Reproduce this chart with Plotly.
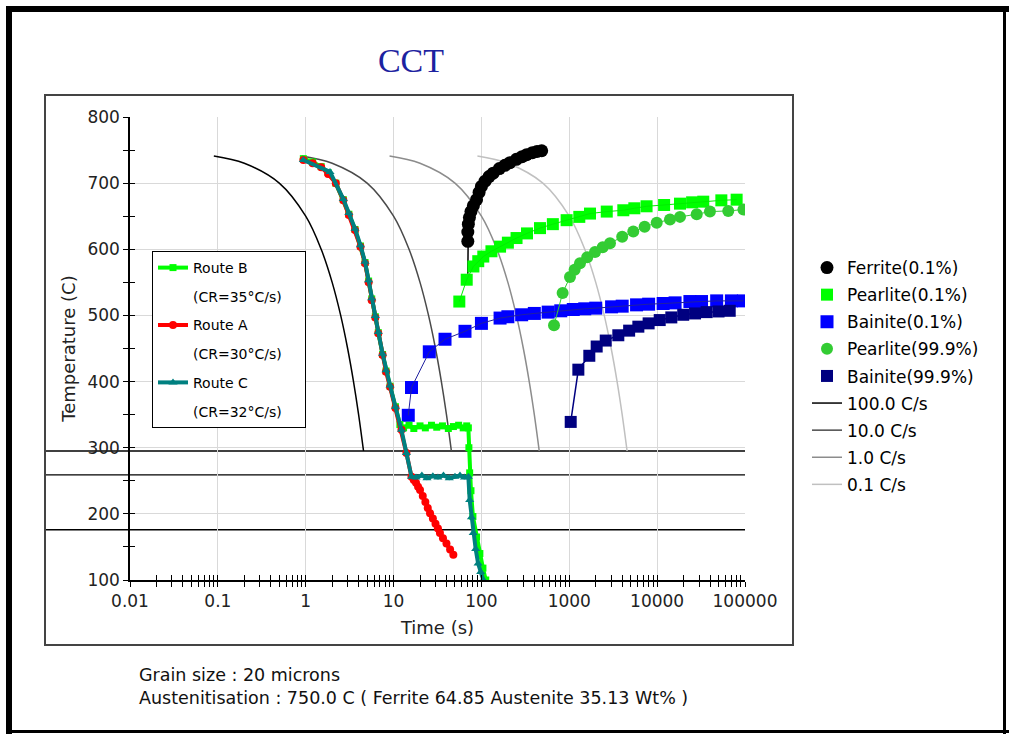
import plotly.graph_objects as go

# ---------------- data ----------------
ferrite_t = [70, 70, 70, 71, 73, 76, 81, 88, 94, 100, 110, 122, 136, 160, 185, 211, 250, 290, 327, 380, 430, 485]
ferrite_T = [563, 612, 626, 638, 648, 657, 666, 675, 686, 695, 703, 710, 715, 722, 727, 731, 736, 740, 743, 746, 748, 749]

pearlite01_t = [56, 68, 81, 92, 105, 130, 163, 200, 251, 330, 464, 650, 933, 1300, 1720, 2670, 4120, 5500, 7580,
                12000, 18200, 25000, 33500, 53800, 80300]
pearlite01_T = [521, 554, 574, 582, 589, 597, 604, 610, 617, 624, 632, 638, 644, 649, 654, 657, 659, 662, 665,
                667, 669, 671, 672, 674, 675]

bainite01_t = [14.7, 16, 25.5, 38.5, 65, 100, 163, 200, 287, 400, 575, 800, 1110, 1500, 2000, 3030, 4000, 5830,
               8000, 11700, 16000, 23600, 32000, 47600, 70000, 96000]
bainite01_T = [349, 391, 445, 464, 476, 488, 496, 498, 501, 503, 505, 507, 509, 510, 511, 513, 514, 516,
               517, 518, 519, 521, 521, 522, 522, 522]

pearlite999_t = [670, 840, 1018, 1150, 1324, 1600, 1963, 2400, 2906, 4000, 5350, 7200, 9880, 14000, 18200,
                 28200, 39900, 64500, 96000]
pearlite999_T = [485, 534, 558, 569, 579, 588, 596, 603, 609, 619, 627, 634, 640, 645, 649, 653, 657, 658, 660]

bainite999_t = [1038, 1268, 1690, 2050, 2600, 3614, 4800, 6110, 8000, 10700, 14500, 19800, 27000, 36600, 50000, 67000]
bainite999_T = [339, 418, 439, 453, 462, 470, 477, 483, 488, 493, 497, 501, 503, 505, 506, 507]

# cooling-rate reference curves
cool100_t = [0.09, 0.2, 0.5, 1.0, 1.5, 2.0, 2.5, 3.0, 3.5, 4.0, 4.55]
cool100_T = [741, 730, 700, 650, 600, 550, 500, 450, 400, 350, 295]
cool10_t = [0.9, 2, 5, 10, 15, 20, 25, 30, 35, 40, 45.5]
cool10_T = [741, 730, 700, 650, 600, 550, 500, 450, 400, 350, 295]
cool1_t = [9, 20, 50, 100, 150, 200, 250, 300, 350, 400, 455]
cool1_T = [741, 730, 700, 650, 600, 550, 500, 450, 400, 350, 295]
cool01_t = [90, 200, 500, 1000, 1500, 2000, 2500, 3000, 3500, 4000, 4550]
cool01_T = [741, 730, 700, 650, 600, 550, 500, 450, 400, 350, 295]

# horizontal reference temperatures
hline_T = [295, 259, 176]

# processing routes
routeA_t = [0.94, 1.2, 1.5, 1.8, 2.2, 2.68, 3.1, 3.64, 4.2, 4.73, 5.2, 5.64, 6.2, 6.7, 7.5, 8.2, 9.12, 10.5,
            12.3, 14, 16, 17, 18, 19, 20, 21.5, 23, 24.5, 26, 28, 30, 32, 33.7, 36.5, 40, 44, 47.9]
routeA_T = [735, 730, 724, 714, 700, 674, 652, 629, 604, 579, 550, 523, 497, 473, 440, 415, 392, 360,
            327, 292, 256, 251, 247, 241, 236, 227, 218, 209, 201, 193, 185, 178, 171, 163, 155, 146, 138]

routeB_t = [0.94, 1.2, 1.5, 1.8, 2.2, 2.68, 3.1, 3.64, 4.2, 4.73, 5.2, 5.64, 6.2, 6.7, 7.5, 8.2, 9.12, 10.5,
            11.8, 13, 15, 17, 20, 23, 27, 31, 36, 42, 48, 55, 62, 68, 71, 72, 73.5, 76, 80, 88, 96, 104, 112]
routeB_T = [737, 732, 725, 716, 700, 675, 653, 630, 605, 580, 552, 525, 498, 474, 441, 416, 393, 362,
            335, 330, 334, 329, 333, 330, 334, 331, 333, 329, 332, 334, 330, 333, 330, 300, 262, 235, 196, 165,
            140, 118, 100]

routeC_t = [0.94, 1.89, 2.68, 3.1, 3.64, 4.2, 4.73, 5.2, 5.64, 6.2, 6.7, 7.5, 8.2, 9.12, 10.5, 12.3, 14, 16,
            18, 21, 24, 28, 32, 37, 43, 50, 57, 64, 71, 73.5, 77, 80.7, 86, 91.7, 98, 105]
routeC_T = [735, 717, 676, 655, 631, 606, 581, 553, 526, 499, 475, 442, 417, 394, 362, 327, 292, 256,
            255, 258, 254, 257, 255, 258, 254, 256, 258, 255, 256, 221, 195, 171, 147, 125, 112, 100]

x_tickvals = [0.01, 0.1, 1, 10, 100, 1000, 10000, 100000]
x_ticktext = ["0.01", "0.1", "1", "10", "100", "1000", "10000", "100000"]
y_tickvals = [100, 200, 300, 400, 500, 600, 700, 800]

# ---------------- layout helpers ----------------
W, H = 1009, 734
L, R, T, B = 130, 745, 117, 580  # plot-area pixel bounds


def px(xp):
    return (xp - L) / (R - L)


def py(yp):
    return (B - yp) / (B - T)


x_minor = [m * d for d in [0.01, 0.1, 1, 10, 100, 1000, 10000] for m in range(2, 10)]
y_minor = [v + 50 for v in y_tickvals[:-1]]

FONT = "DejaVu Sans"
NBSP = "\u00a0"

fig = go.Figure()

# cooling curves
for k, (t, Tv, name, col) in enumerate([(cool100_t, cool100_T, "100.0 C/s", "#000000"),
                                        (cool10_t, cool10_T, "10.0 C/s", "#4a4a4a"),
                                        (cool1_t, cool1_T, "1.0 C/s", "#8c8c8c"),
                                        (cool01_t, cool01_T, "0.1 C/s", "#c0c0c0")]):
    fig.add_trace(go.Scatter(x=t, y=Tv, mode="lines", name=name, line=dict(color=col, width=1.5, shape="spline"),
                             legend="legend2", legendgroup="c%d" % k, legendrank=100 + k))

# phase curves: markers (legend) + connecting lines (no legend)
phases = [
    (ferrite_t, ferrite_T, "Ferrite(0.1%)", "circle", "#000000", "#000000", 13, 1.5),
    (pearlite01_t, pearlite01_T, "Pearlite(0.1%)", "square", "#00ff00", "#00ee00", 12, 1),
    (bainite01_t, bainite01_T, "Bainite(0.1%)", "square", "#0000ff", "#2020a0", 13, 1),
    (pearlite999_t, pearlite999_T, "Pearlite(99.9%)", "circle", "#33cc33", "#33cc33", 12, 1),
    (bainite999_t, bainite999_T, "Bainite(99.9%)", "square", "#000080", "#000080", 12, 1.5),
]
for i, (t, Tv, name, sym, col, lcol, size, lw) in enumerate(phases):
    mt, mT = (t[1:], Tv[1:]) if name.startswith("Ferrite") else (t, Tv)
    fig.add_trace(go.Scatter(x=mt, y=mT, mode="markers", name=name,
                             marker=dict(symbol=sym, color=col, size=size, line=dict(width=0)),
                             legend="legend2", legendgroup="p%d" % i, legendrank=i + 1))
    fig.add_trace(go.Scatter(x=t, y=Tv, mode="lines", line=dict(color=lcol, width=lw), showlegend=False,
                             hoverinfo="skip"))

# routes
routes = [
    (routeB_t, routeB_T, "Route B", "(CR=35°C/s)", "#00ff00", "square", 7, 1),
    (routeA_t, routeA_T, "Route A", "(CR=30°C/s)", "#ff0000", "circle", 8, 2),
    (routeC_t, routeC_T, "Route C", "(CR=32°C/s)", "#008080", "triangle-up", 8, 3),
]
for t, Tv, name, cr, col, sym, size, k in routes:
    fig.add_trace(go.Scatter(x=t, y=Tv, mode="lines+markers", name=name,
                             line=dict(color=col, width=4),
                             marker=dict(symbol=sym, color=col, size=size),
                             legend="legend", legendgroup="g%da" % k, legendrank=2 * k - 1))
    fig.add_trace(go.Scatter(x=[None], y=[None], mode="lines", name=cr + NBSP * 4,
                             line=dict(color="rgba(0,0,0,0)", width=0),
                             legend="legend", legendgroup="g%db" % k, legendrank=2 * k))

# dummy trace for the mirrored tick axes
fig.add_trace(go.Scatter(x=[None], y=[None], xaxis="x2", yaxis="y2", showlegend=False))

shapes = []
# horizontal reference lines
for v in hline_T:
    shapes.append(dict(type="line", xref="paper", yref="y", x0=px(45), x1=1, y0=v, y1=v,
                       line=dict(color="black", width=1.3), layer="between"))
# inner box
shapes.append(dict(type="rect", xref="paper", yref="paper", x0=px(45), x1=px(793), y0=py(645), y1=py(95),
                   line=dict(color="#444444", width=2), layer="above"))
# outer frame
shapes.append(dict(type="line", xref="paper", yref="paper", x0=px(9), x1=px(9), y0=py(734), y1=py(6),
                   line=dict(color="black", width=6)))
shapes.append(dict(type="line", xref="paper", yref="paper", x0=px(6), x1=px(1009), y0=py(9), y1=py(9),
                   line=dict(color="black", width=6)))
shapes.append(dict(type="line", xref="paper", yref="paper", x0=px(1004.5), x1=px(1004.5), y0=py(734), y1=py(9),
                   line=dict(color="black", width=3)))
shapes.append(dict(type="line", xref="paper", yref="paper", x0=px(6), x1=px(1009), y0=py(731.5), y1=py(731.5),
                   line=dict(color="black", width=3)))

axis_common = dict(showline=True, linecolor="black", linewidth=1.5, tickcolor="black", ticklen=5,
                   tickwidth=1.3, tickfont=dict(family=FONT, size=17, color="#222222"), zeroline=False)

fig.update_layout(
    width=W, height=H,
    margin=dict(l=L, r=W - R, t=T, b=H - B),
    paper_bgcolor="white", plot_bgcolor="white",
    title=dict(text="CCT", x=px(411), xref="paper", xanchor="center", y=1 - 60 / H, yanchor="middle",
               font=dict(family="Liberation Serif", size=34, color="#1c22a0")),
    xaxis=dict(type="log", range=[-2, 5], tickvals=x_tickvals, ticktext=x_ticktext, ticks="outside",
               showgrid=True, gridcolor="#d9d9d9", gridwidth=1,
               minor=dict(tickvals=x_minor, ticks="outside", ticklen=5, tickcolor="black", showgrid=False),
               title=dict(text="Time (s)", font=dict(family=FONT, size=18, color="#222222"), standoff=11),
               **axis_common),
    yaxis=dict(range=[100, 800], tickvals=y_tickvals, ticks="outside",
               showgrid=True, gridcolor="#d9d9d9", gridwidth=1,
               minor=dict(tickvals=y_minor, ticks="outside", ticklen=5, tickcolor="black", showgrid=False),
               title=dict(text="Temperature (C)", font=dict(family=FONT, size=18, color="#222222"), standoff=7),
               **axis_common),
    xaxis2=dict(type="log", range=[-2, 5], overlaying="x", anchor="y", side="bottom", tickvals=x_tickvals,
                ticks="inside", ticklen=5, tickcolor="black", tickwidth=1.3, showticklabels=False,
                showgrid=False, zeroline=False,
                minor=dict(tickvals=x_minor, ticks="inside", ticklen=5, tickcolor="black", showgrid=False)),
    yaxis2=dict(range=[100, 800], overlaying="y", anchor="x", side="left", tickvals=y_tickvals,
                ticks="inside", ticklen=5, tickcolor="black", tickwidth=1.3, showticklabels=False,
                showgrid=False, zeroline=False,
                minor=dict(tickvals=y_minor, ticks="inside", ticklen=5, tickcolor="black", showgrid=False)),
    legend=dict(x=px(152), y=py(251), xanchor="left", yanchor="top", bgcolor="white",
                bordercolor="black", borderwidth=1, traceorder="grouped", tracegroupgap=7.5,
                font=dict(family=FONT, size=14, color="black")),
    legend2=dict(x=px(807), y=py(250), xanchor="left", yanchor="top", bgcolor="rgba(0,0,0,0)",
                 traceorder="grouped", tracegroupgap=2,
                 font=dict(family=FONT, size=17, color="black")),
    shapes=shapes,
    annotations=[
        dict(text="Grain size : 20 microns", xref="paper", yref="paper", x=px(137), y=py(675),
             xanchor="left", yanchor="middle", showarrow=False, font=dict(family=FONT, size=17.5, color="#111111")),
        dict(text="Austenitisation : 750.0 C ( Ferrite 64.85 Austenite 35.13 Wt% )", xref="paper", yref="paper",
             x=px(137), y=py(698), xanchor="left", yanchor="middle", showarrow=False,
             font=dict(family=FONT, size=17.5, color="#111111")),
    ],
)

fig.write_html("out.html")
